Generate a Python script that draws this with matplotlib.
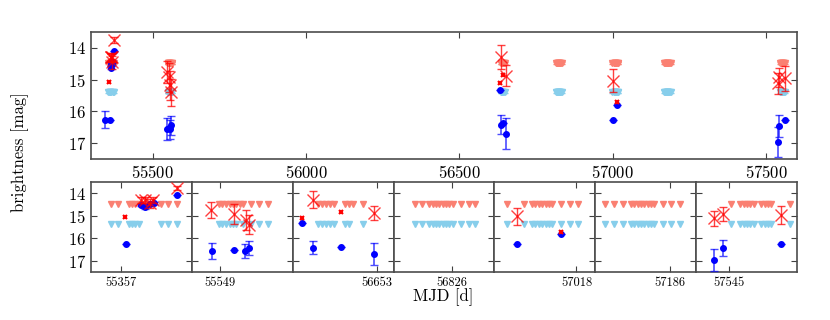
import matplotlib
matplotlib.use('Agg')
import matplotlib.pyplot as plt

plt.rcParams['font.family'] = 'serif'
plt.rcParams['font.serif'] = ['cmr10', 'DejaVu Serif']
plt.rcParams['mathtext.fontset'] = 'cm'
plt.rcParams['axes.formatter.use_mathtext'] = True

# --- data ---
# upper limits, red band and blue band
lim_red = 14.48
lim_blue = 15.38
ul_red_t = [55354, 55356, 55359.3, 55360.3, 55361.3, 55362.3, 55363.3, 55364.3, 55365.3, 55366.6,
            55368.9, 55371.1, 55373.6,
            55548.5, 55549.5, 55550.7, 55551.7, 55552.7, 55553.7, 55554.7, 55555.7, 55558.2,
            55560.6, 55563.1,
            56635.3, 56636.6, 56637.8, 56639.0, 56640.2, 56643.5, 56644.7, 56645.9, 56648.7,
            56815.0, 56817.3, 56819.3, 56820.3, 56821.3, 56822.3, 56823.3, 56824.3, 56825.3,
            56826.3, 56828.8, 56831.0, 56833.0,
            56997.3, 57002.5, 57004.8, 57005.8, 57006.8, 57007.8, 57008.8, 57009.8, 57010.8,
            57013.5, 57016.0, 57018.5,
            57166.7, 57169.3, 57171.9, 57174.4, 57175.4, 57176.4, 57177.4, 57178.4, 57179.4,
            57180.4, 57181.4, 57183.9, 57186.4, 57189.1,
            57545.5, 57548.2, 57549.2, 57550.2, 57551.2, 57552.2, 57554.5, 57555.5, 57556.5,
            57557.5, 57562.9]
ul_blue_t = [55354, 55356, 55359.3, 55360.3, 55361.3, 55362.3, 55368.9, 55371.1, 55373.6,
             55548.5, 55549.5, 55550.7, 55551.7, 55552.7, 55553.7, 55555.7, 55558.2, 55560.6,
             55563.1,
             56635.3, 56636.6, 56637.8, 56639.0, 56640.2, 56643.5, 56644.7, 56648.7,
             56815.0, 56817.3, 56819.3, 56820.3, 56821.3, 56822.3, 56823.3, 56824.3, 56825.3,
             56826.3, 56828.8, 56831.0, 56833.0,
             56997.3, 57002.5, 57004.8, 57005.8, 57006.8, 57007.8, 57008.8, 57009.8, 57010.8,
             57013.5, 57016.0, 57018.5,
             57166.7, 57169.3, 57171.9, 57174.4, 57175.4, 57176.4, 57177.4, 57178.4, 57179.4,
             57180.4, 57181.4, 57183.9, 57186.4, 57189.1,
             57545.5, 57548.2, 57549.2, 57550.2, 57551.2, 57552.2, 57554.5, 57555.5, 57556.5,
             57557.5, 57562.9]

# detections, blue band
blue_t = [55345.0, 55358.4, 55363.1, 55364.3, 55365.6, 55366.8, 55373.6,
          55546.4, 55553.0, 55556.4, 55557.5,
          56630.8, 56633.9, 56642.3, 56652.2,
          57000.2, 57013.5,
          57540.4, 57543.0, 57560.3]
blue_m = [16.26, 16.26, 14.51, 14.63, 14.48, 14.43, 14.09,
          16.55, 16.51, 16.57, 16.44,
          15.33, 16.42, 16.37, 16.70,
          16.26, 15.81,
          16.97, 16.45, 16.27]
blue_e = [0.27, 0.0, 0.05, 0.05, 0.05, 0.05, 0.0,
          0.35, 0.0, 0.30, 0.30,
          0.0, 0.30, 0.0, 0.50,
          0.0, 0.0,
          0.48, 0.35, 0.0]

# detections, red band (with errors)
red_t = [55363.0, 55364.2, 55365.6, 55366.6, 55373.6,
         55546.2, 55553.0, 55556.5, 55557.5,
         56633.9, 56652.2,
         57000.2,
         57540.4, 57543.0, 57560.3]
red_m = [14.30, 14.30, 14.45, 14.30, 13.76,
         14.76, 14.93, 15.18, 15.40,
         14.29, 14.88,
         15.03,
         15.11, 14.93, 14.96]
red_e = [0.12, 0.15, 0.20, 0.15, 0.10,
         0.35, 0.45, 0.45, 0.42,
         0.37, 0.33,
         0.37,
         0.33, 0.30, 0.40]

# red detections without error bars
red2_t = [55358.3, 56630.8, 56642.3, 57013.5]
red2_m = [15.07, 15.11, 14.84, 15.70]

# zoom panels: tick position and left edge of each window
panel_ticks = [55357, 55549, 56653, 56826, 57018, 57186, 57545]
panel_left = [55348.1, 55540.5, 56627.9, 56808.7, 56993.6, 57163.8, 57535.1]
panel_span = 30.0


def draw(ax, top=False):
    if top:
        ax.errorbar(ul_red_t, [lim_red] * len(ul_red_t), yerr=0.04, fmt='v', color='salmon',
                    ms=4.5, capsize=2, elinewidth=0.8, zorder=2)
        ax.errorbar(ul_blue_t, [lim_blue] * len(ul_blue_t), yerr=0.04, fmt='v', color='skyblue',
                    ms=4.5, capsize=2, elinewidth=0.8, zorder=2)
    else:
        ax.plot(ul_red_t, [lim_red] * len(ul_red_t), 'v', color='salmon', ms=4.5, zorder=2)
        ax.plot(ul_blue_t, [lim_blue] * len(ul_blue_t), 'v', color='skyblue', ms=4.5, zorder=2)
    ax.errorbar(blue_t, blue_m, yerr=blue_e, fmt='o', color='blue', ms=4, capsize=3,
                elinewidth=1.2, ecolor=(0, 0, 1, 0.7), zorder=3)
    ax.errorbar(red_t, red_m, yerr=red_e, fmt='x', color='red', ms=8, mew=1.0, capsize=3,
                elinewidth=1.0, alpha=0.75, zorder=4)
    ax.plot(red2_t, red2_m, 'x', color='red', ms=3.5, mew=1.5, zorder=4)
    ax.set_ylim(17.5, 13.5)
    ax.set_yticks([14, 15, 16, 17])
    ax.tick_params(direction='in', top=True, right=True, length=4, color='0.25')
    for s in ax.spines.values():
        s.set_linewidth(1.2)
        s.set_color('0.3')


fig = plt.figure(figsize=(8.3, 3.2), dpi=100)

W, H = 830.0, 320.0
ax_top = fig.add_axes([91 / W, 1 - 159 / H, 706 / W, 127 / H])
draw(ax_top, top=True)
ax_top.set_xlim(55298, 57601)
ax_top.set_xticks([55500, 56000, 56500, 57000, 57500])
ax_top.tick_params(labelsize=12)

pw = 706 / 7.0
for i, (tk, lo) in enumerate(zip(panel_ticks, panel_left)):
    ax = fig.add_axes([(91 + i * pw) / W, 1 - 272 / H, pw / W, 90 / H])
    draw(ax)
    ax.set_xlim(lo, lo + panel_span)
    ax.set_xticks([tk])
    ax.set_xticklabels([str(tk)], fontsize=9)
    if i == 0:
        ax.tick_params(labelsize=12, axis='y')
    else:
        ax.set_yticklabels([])

fig.text(20 / W, 1 - 152 / H, 'brightness [mag]', rotation=90, ha='center', va='center',
         fontsize=12)
fig.text(443 / W, 1 - 297 / H, 'MJD [d]', ha='center', va='center', fontsize=12)

fig.savefig('out.png', dpi=100)
